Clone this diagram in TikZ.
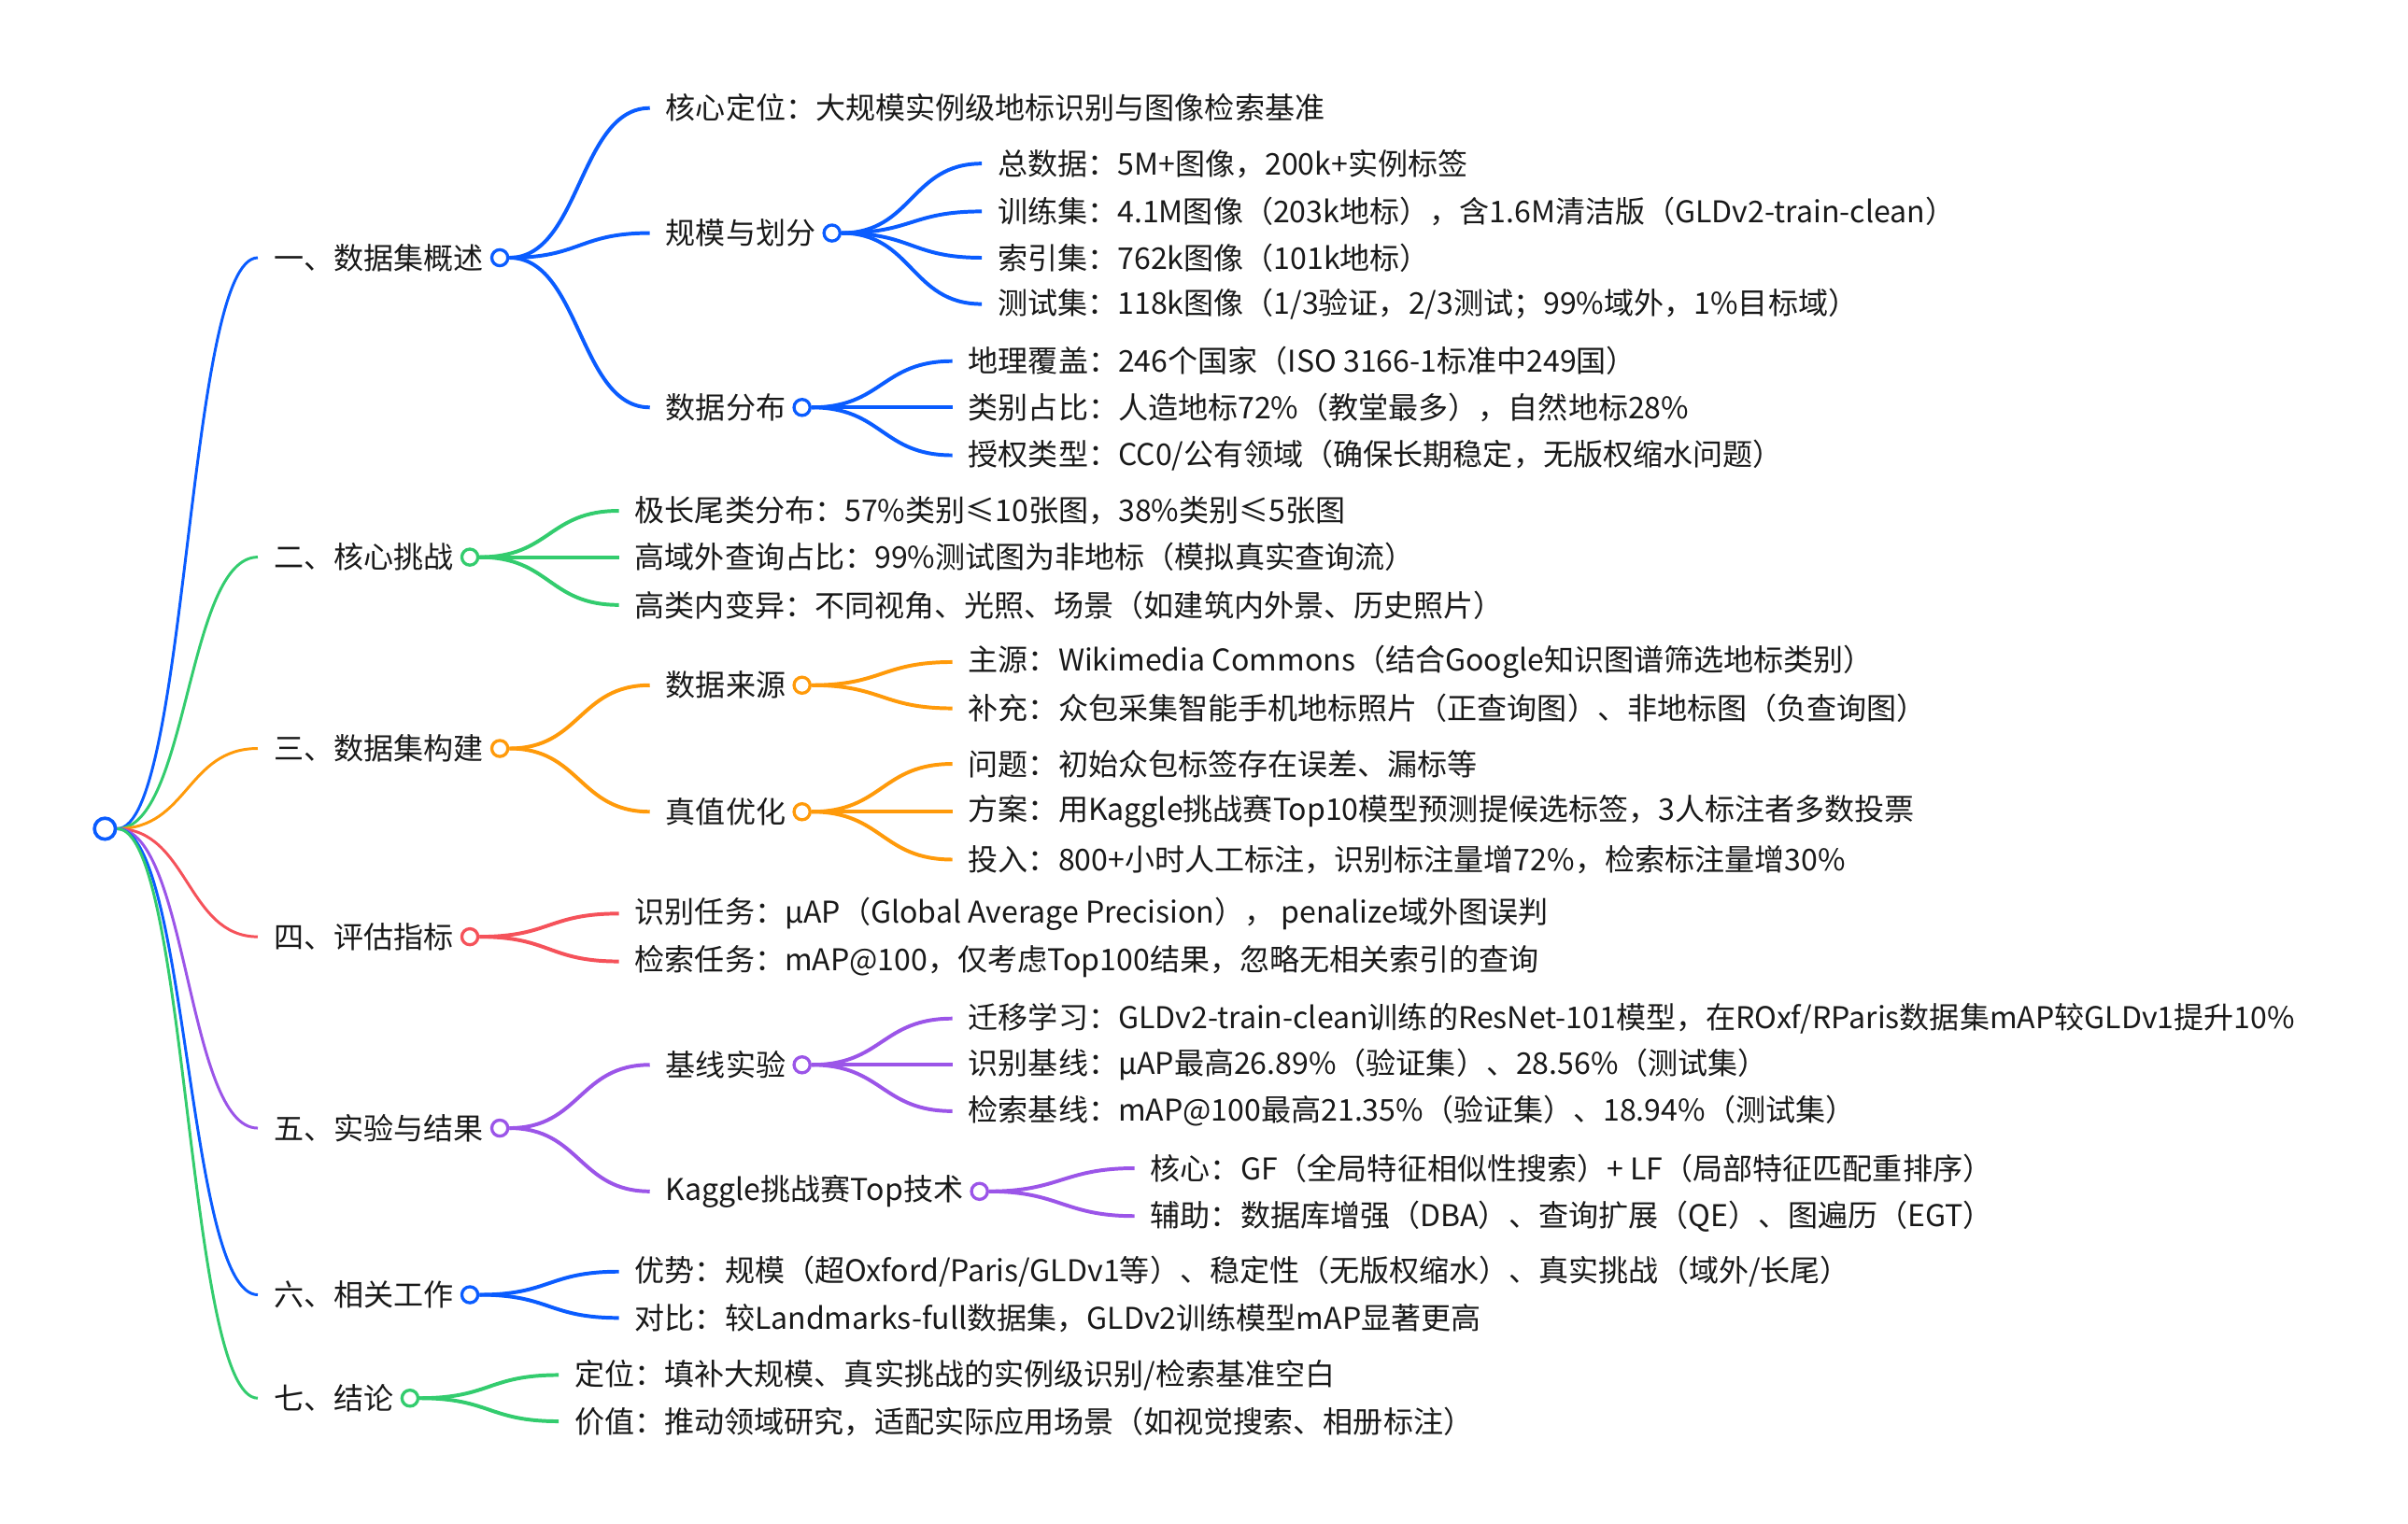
\documentclass[tikz,border=0pt]{standalone}
\usepackage{fontspec}
\setmainfont{Noto Sans CJK SC}
\usetikzlibrary{positioning}
\definecolor{mblue}{HTML}{0A5CFF}
\definecolor{mgreen}{HTML}{33CC6E}
\definecolor{morange}{HTML}{FF9A0A}
\definecolor{mred}{HTML}{F5525A}
\definecolor{mpurple}{HTML}{9B55E8}
\tikzset{
  tx/.style={anchor=west, inner xsep=5pt, inner ysep=1pt, text=black!90, font=\fontsize{9.7}{11}\selectfont},
  dot/.style={circle, draw=#1, fill=white, line width=1pt, inner sep=0pt, minimum size=5.2pt},
  lvone/.style={draw=#1, line width=0.9pt},
  lvtwo/.style={draw=#1, line width=1.2pt},
}

\begin{document}
\begin{tikzpicture}[x=0.5pt, y=-0.5pt]
\useasboundingbox (0,0) rectangle (1560,987.5);

\node[dot=mblue, minimum size=6.8pt, line width=1.1pt] (root) at (68,537) {};

% first level
\node[tx] (s1) at (167,167) {一、数据集概述};
\node[tx] (s2) at (167,361) {二、核心挑战};
\node[tx] (s3) at (167,485) {三、数据集构建};
\node[tx] (s4) at (167,607) {四、评估指标};
\node[tx] (s5) at (167,731) {五、实验与结果};
\node[tx] (s6) at (167,839) {六、相关工作};
\node[tx] (s7) at (167,906) {七、结论};
\foreach \n/\c in {s1/mblue, s2/mgreen, s3/morange, s4/mred, s5/mpurple, s6/mblue, s7/mgreen} {
  \draw[lvone=\c] (root.east) .. controls +(46,0) and +(-46,0) .. (\n.west);
  \node[dot=\c, right=-3pt of \n] (\n o) {};
}

% 一
\node[tx] (s1a) at (421,70) {核心定位：大规模实例级地标识别与图像检索基准};
\node[tx] (s1b) at (421,151) {规模与划分};
\node[tx] (s1c) at (421,264) {数据分布};
\node[dot=mblue, right=-3pt of s1b] (s1bo) {};
\node[dot=mblue, right=-3pt of s1c] (s1co) {};
\node[tx] (s1b1) at (636,106) {总数据：5M+图像，200k+实例标签};
\node[tx] (s1b2) at (636,137) {训练集：4.1M图像（203k地标），含1.6M清洁版（GLDv2-train-clean）};
\node[tx] (s1b3) at (636,167) {索引集：762k图像（101k地标）};
\node[tx] (s1b4) at (636,197) {测试集：118k图像（1/3验证，2/3测试；99\%域外，1\%目标域）};
\node[tx] (s1c1) at (617,234) {地理覆盖：246个国家（ISO 3166-1标准中249国）};
\node[tx] (s1c2) at (617,264) {类别占比：人造地标72\%（教堂最多），自然地标28\%};
\node[tx] (s1c3) at (617,295) {授权类型：CC0/公有领域（确保长期稳定，无版权缩水问题）};
\foreach \n in {s1a,s1b,s1c}
  \draw[lvtwo=mblue] (s1o.east) .. controls +(46,0) and +(-46,0) .. (\n.west);
\foreach \n in {s1b1,s1b2,s1b3,s1b4}
  \draw[lvtwo=mblue] (s1bo.east) .. controls +(46,0) and +(-46,0) .. (\n.west);
\foreach \n in {s1c1,s1c2,s1c3}
  \draw[lvtwo=mblue] (s1co.east) .. controls +(46,0) and +(-46,0) .. (\n.west);

% 二
\node[tx] (s2a) at (401,331) {极长尾类分布：57\%类别≤10张图，38\%类别≤5张图};
\node[tx] (s2b) at (401,361) {高域外查询占比：99\%测试图为非地标（模拟真实查询流）};
\node[tx] (s2c) at (401,392) {高类内变异：不同视角、光照、场景（如建筑内外景、历史照片）};
\foreach \n in {s2a,s2b,s2c}
  \draw[lvtwo=mgreen] (s2o.east) .. controls +(46,0) and +(-46,0) .. (\n.west);

% 三
\node[tx] (s3a) at (421,444) {数据来源};
\node[tx] (s3b) at (421,526) {真值优化};
\node[dot=morange, right=-3pt of s3a] (s3ao) {};
\node[dot=morange, right=-3pt of s3b] (s3bo) {};
\node[tx] (s3a1) at (617,429) {主源：Wikimedia Commons（结合Google知识图谱筛选地标类别）};
\node[tx] (s3a2) at (617,459) {补充：众包采集智能手机地标照片（正查询图）、非地标图（负查询图）};
\node[tx] (s3b1) at (617,495) {问题：初始众包标签存在误差、漏标等};
\node[tx] (s3b2) at (617,526) {方案：用Kaggle挑战赛Top10模型预测提候选标签，3人标注者多数投票};
\node[tx] (s3b3) at (617,557) {投入：800+小时人工标注，识别标注量增72\%，检索标注量增30\%};
\foreach \n in {s3a,s3b}
  \draw[lvtwo=morange] (s3o.east) .. controls +(46,0) and +(-46,0) .. (\n.west);
\foreach \n in {s3a1,s3a2}
  \draw[lvtwo=morange] (s3ao.east) .. controls +(46,0) and +(-46,0) .. (\n.west);
\foreach \n in {s3b1,s3b2,s3b3}
  \draw[lvtwo=morange] (s3bo.east) .. controls +(46,0) and +(-46,0) .. (\n.west);

% 四
\node[tx] (s4a) at (401,592) {识别任务：μAP（Global Average Precision）， penalize域外图误判};
\node[tx] (s4b) at (401,623) {检索任务：mAP@100，仅考虑Top100结果，忽略无相关索引的查询};
\foreach \n in {s4a,s4b}
  \draw[lvtwo=mred] (s4o.east) .. controls +(46,0) and +(-46,0) .. (\n.west);

% 五
\node[tx] (s5a) at (421,690) {基线实验};
\node[tx] (s5b) at (421,772) {Kaggle挑战赛Top技术};
\node[dot=mpurple, right=-3pt of s5a] (s5ao) {};
\node[dot=mpurple, right=-3pt of s5b] (s5bo) {};
\node[tx] (s5a1) at (617,660) {迁移学习：GLDv2-train-clean训练的ResNet-101模型，在ROxf/RParis数据集mAP较GLDv1提升10\%};
\node[tx] (s5a2) at (617,690) {识别基线：μAP最高26.89\%（验证集）、28.56\%（测试集）};
\node[tx] (s5a3) at (617,720) {检索基线：mAP@100最高21.35\%（验证集）、18.94\%（测试集）};
\node[tx] (s5b1) at (735,757) {核心：GF（全局特征相似性搜索）+ LF（局部特征匹配重排序）};
\node[tx] (s5b2) at (735,788) {辅助：数据库增强（DBA）、查询扩展（QE）、图遍历（EGT）};
\foreach \n in {s5a,s5b}
  \draw[lvtwo=mpurple] (s5o.east) .. controls +(46,0) and +(-46,0) .. (\n.west);
\foreach \n in {s5a1,s5a2,s5a3}
  \draw[lvtwo=mpurple] (s5ao.east) .. controls +(46,0) and +(-46,0) .. (\n.west);
\foreach \n in {s5b1,s5b2}
  \draw[lvtwo=mpurple] (s5bo.east) .. controls +(46,0) and +(-46,0) .. (\n.west);

% 六
\node[tx] (s6a) at (401,824) {优势：规模（超Oxford/Paris/GLDv1等）、稳定性（无版权缩水）、真实挑战（域外/长尾）};
\node[tx] (s6b) at (401,854) {对比：较Landmarks-full数据集，GLDv2训练模型mAP显著更高};
\foreach \n in {s6a,s6b}
  \draw[lvtwo=mblue] (s6o.east) .. controls +(46,0) and +(-46,0) .. (\n.west);

% 七
\node[tx] (s7a) at (362,891) {定位：填补大规模、真实挑战的实例级识别/检索基准空白};
\node[tx] (s7b) at (362,921) {价值：推动领域研究，适配实际应用场景（如视觉搜索、相册标注）};
\foreach \n in {s7a,s7b}
  \draw[lvtwo=mgreen] (s7o.east) .. controls +(46,0) and +(-46,0) .. (\n.west);
\end{tikzpicture}
\end{document}
